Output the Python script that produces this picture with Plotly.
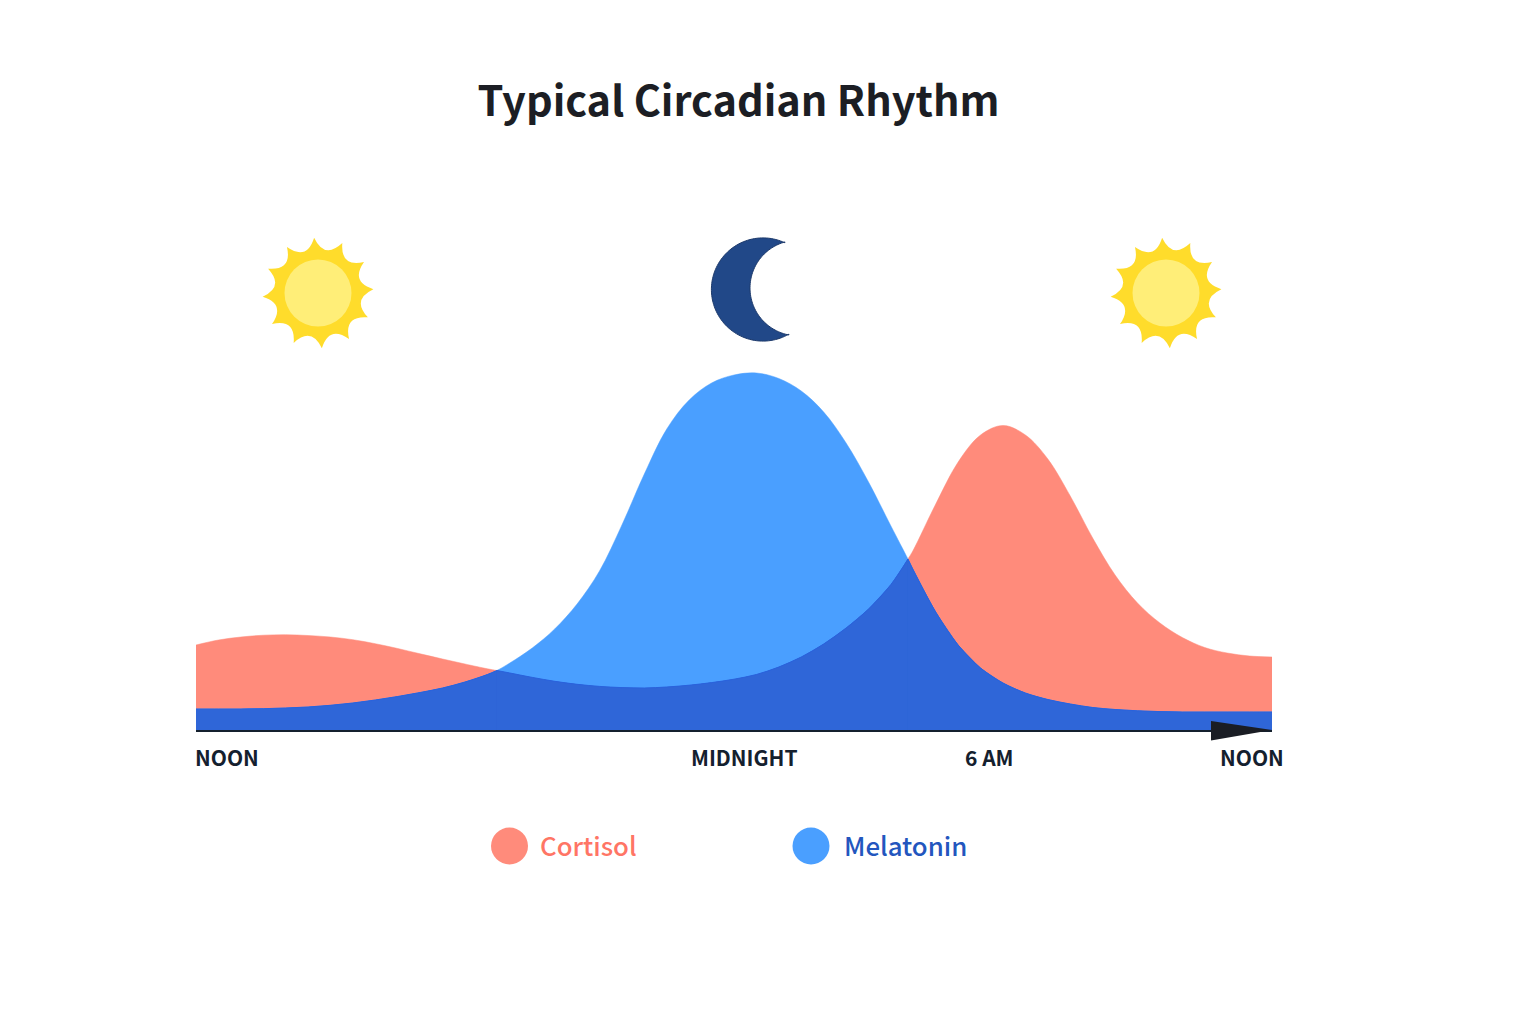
import numpy as np
import plotly.graph_objects as go

# Hours after noon, and relative hormone levels on a shared scale
HOURS = [0, 0.5, 1, 1.5, 2, 2.5, 3, 3.5, 4, 4.5, 5, 5.5, 6, 6.5, 6.71, 7, 7.5, 8, 8.5, 9, 9.5, 10,
         10.5, 11, 11.5, 12, 12.5, 13, 13.5, 14, 14.5, 15, 15.5, 15.88, 16, 16.5, 17, 17.5, 18,
         18.5, 19, 19.5, 20, 20.5, 21, 21.5, 22, 22.5, 23, 23.5, 24]
CORTISOL = [85, 90, 93, 94.8, 95.3, 94.5, 93, 90.3, 86.3, 81.5, 76.2, 71, 66, 61.2, 59.5, 57, 52.6, 48.7, 45.7, 43.6, 42.4, 42,
            43, 44.8, 47.4, 50.8, 55.5, 63, 73, 86, 102, 121, 145.5, 171, 180, 226, 268, 295, 304.5,
            295, 271, 234, 192, 155, 127, 107, 92.5, 82.5, 77, 74, 73]
MELATONIN = [21, 21, 21, 21.3, 22, 23, 24.7, 27, 30, 33.5, 37.5, 42, 48, 55.5, 59.5, 67, 82, 101, 126, 159, 205, 256,
             301, 330, 347, 355, 357, 351.5, 339, 318, 287, 248, 204, 171, 160, 118, 85, 62, 47,
             37, 30.5, 26, 22.5, 20.5, 19.2, 18.4, 18, 18, 18, 18, 18]

TITLE = "Typical Circadian Rhythm"
TIME_LABELS = ["NOON", "MIDNIGHT", "6 AM", "NOON"]
TIME_HOURS = [0, 12, 18, 24]
SERIES_NAMES = ["Cortisol", "Melatonin"]

CORTISOL_FILL = "#FF8B7B"
MELATONIN_FILL = "#4A9FFF"
OVERLAP_FILL = "#2F66D8"
INK = "#14202E"
FONT = "Noto Sans CJK KR"

# Plot frame on the page, in pixels
LEFT, RIGHT, BASE, TOP = 196, 1272, 730, 330
PAGE_W, PAGE_H = 1536, 1024


def px(x):
    return (x - LEFT) / (RIGHT - LEFT)


def py(y):
    return (BASE - y) / (BASE - TOP)


def polygon(points):
    head = "M{:.5f},{:.5f}".format(px(points[0][0]), py(points[0][1]))
    body = "".join("L{:.5f},{:.5f}".format(px(a), py(b)) for a, b in points[1:])
    return head + body + "Z"


def sun_path(cx, cy, tip=55.5, ctrl=34.0, rays=12, spin=-4.0):
    parts = []
    for i in range(rays):
        a0 = np.radians(spin + i * 360 / rays - 90)
        am = a0 + np.pi / rays
        a1 = a0 + 2 * np.pi / rays
        if i == 0:
            parts.append("M{:.5f},{:.5f}".format(px(cx + tip * np.cos(a0)), py(cy + tip * np.sin(a0))))
        parts.append("Q{:.5f},{:.5f} {:.5f},{:.5f}".format(
            px(cx + ctrl * np.cos(am)), py(cy + ctrl * np.sin(am)),
            px(cx + tip * np.cos(a1)), py(cy + tip * np.sin(a1))))
    return "".join(parts) + "Z"


def circle(cx, cy, r, color):
    return dict(type="circle", xref="paper", yref="paper", layer="above",
                x0=px(cx - r), x1=px(cx + r), y0=py(cy + r), y1=py(cy - r),
                fillcolor=color, line_width=0)


def moon_points():
    # Outer limb and inner bite of the crescent, joined at the two horns
    outer_c, outer_r = (763.0, 289.5), 51.6
    inner_c, inner_r = (797.8, 288.0), 47.8
    outer = np.radians(np.linspace(-65, -300, 90))
    inner = np.radians(np.linspace(-259.4, -105.5, 70))
    pts = [(outer_c[0] + outer_r * np.cos(t), outer_c[1] + outer_r * np.sin(t)) for t in outer]
    pts += [(inner_c[0] + inner_r * np.cos(t), inner_c[1] + inner_r * np.sin(t)) for t in inner]
    return pts


hours = np.array(HOURS, dtype=float)
cortisol = np.array(CORTISOL, dtype=float)
melatonin = np.array(MELATONIN, dtype=float)
lower = np.minimum(cortisol, melatonin)

curve = dict(shape="spline", smoothing=1.0, simplify=False)
fig = go.Figure()
fig.add_trace(go.Scatter(x=HOURS, y=CORTISOL, name=SERIES_NAMES[0], mode="lines", fill="tozeroy",
                         fillcolor=CORTISOL_FILL, line=dict(color=CORTISOL_FILL, width=0.5, **curve)))
fig.add_trace(go.Scatter(x=HOURS, y=MELATONIN, name=SERIES_NAMES[1], mode="lines", fill="tozeroy",
                         fillcolor=MELATONIN_FILL, line=dict(color=MELATONIN_FILL, width=0.5, **curve)))

# Straight-edged base of the shared area, so the smooth pieces above it leave no seam
fig.add_trace(go.Scatter(x=HOURS, y=lower, name="Overlap", mode="lines", fill="tozeroy",
                         fillcolor=OVERLAP_FILL, line=dict(color=OVERLAP_FILL, width=0, simplify=False)))

# The shared area under both curves, split where they cross so each piece stays smooth
crossings = [i for i in range(len(hours)) if abs(cortisol[i] - melatonin[i]) < 0.01]
edges = [0] + crossings + [len(hours) - 1]
for a, b in zip(edges[:-1], edges[1:]):
    fig.add_trace(go.Scatter(x=hours[a:b + 1], y=lower[a:b + 1], name="Overlap", mode="lines", fill="tozeroy",
                             fillcolor=OVERLAP_FILL, line=dict(color="#2A62DC", width=1, **curve)))

shapes = [
    # Arrowhead closing the time axis
    dict(type="path", xref="paper", yref="paper", layer="above", fillcolor="#1A1D24", line_width=0,
         path=polygon([(1211, 721), (1272, 730), (1211, 740.5)])),
    # Crescent moon above midnight
    dict(type="path", xref="paper", yref="paper", layer="above", fillcolor="#214888",
         line=dict(color="#1D3A6B", width=1), path=polygon(moon_points())),
    # Legend swatches
    circle(509.5, 846, 18.5, CORTISOL_FILL),
    circle(811, 846, 18.5, MELATONIN_FILL),
]
for sx in (318, 1166):
    shapes.append(dict(type="path", xref="paper", yref="paper", layer="above", fillcolor="#FFDC2B",
                       line_width=0, path=sun_path(sx, 293)))
    shapes.append(circle(sx, 293, 33.5, "#FFEE78"))

label_shift = [-3, 10, -13.5, 13.5]
label_anchor = ["left", "center", "center", "right"]
annotations = []
for text, hour, shift, anchor in zip(TIME_LABELS, TIME_HOURS, label_shift, label_anchor):
    annotations.append(dict(x=hour, y=0, xref="x", yref="y", text=text, showarrow=False, xanchor=anchor,
                            yanchor="middle", xshift=shift, yshift=-27,
                            font=dict(family=FONT, size=21, color=INK, weight=600)))
annotations.append(dict(x=px(540), y=py(846), xref="paper", yref="paper", text=SERIES_NAMES[0], showarrow=False,
                        xanchor="left", yanchor="middle", xshift=-2, yshift=1.5,
                        font=dict(family=FONT, size=25.8, color="#FF7565", weight=500)))
annotations.append(dict(x=px(844), y=py(846), xref="paper", yref="paper", text=SERIES_NAMES[1], showarrow=False,
                        xanchor="left", yanchor="middle", xshift=-2, yshift=1.5,
                        font=dict(family=FONT, size=25.8, color="#2356BE", weight=500)))

fig.update_layout(
    width=PAGE_W, height=PAGE_H, showlegend=False,
    paper_bgcolor="white", plot_bgcolor="white",
    margin=dict(l=LEFT, r=PAGE_W - RIGHT, t=TOP, b=PAGE_H - BASE, pad=0),
    title=dict(text=TITLE, x=738.5 / PAGE_W, xanchor="center", xref="container",
               y=1 - 101.5 / PAGE_H, yanchor="middle", yref="container",
               font=dict(family=FONT, size=41.5, color="#1C1E24", weight=700)),
    shapes=shapes, annotations=annotations,
    xaxis=dict(range=[0, 24], showgrid=False, zeroline=False, showticklabels=False, ticks="",
               showline=True, linecolor=INK, linewidth=2),
    yaxis=dict(range=[0, 400], visible=False, showgrid=False, zeroline=False),
)

fig.write_html("out.html")
